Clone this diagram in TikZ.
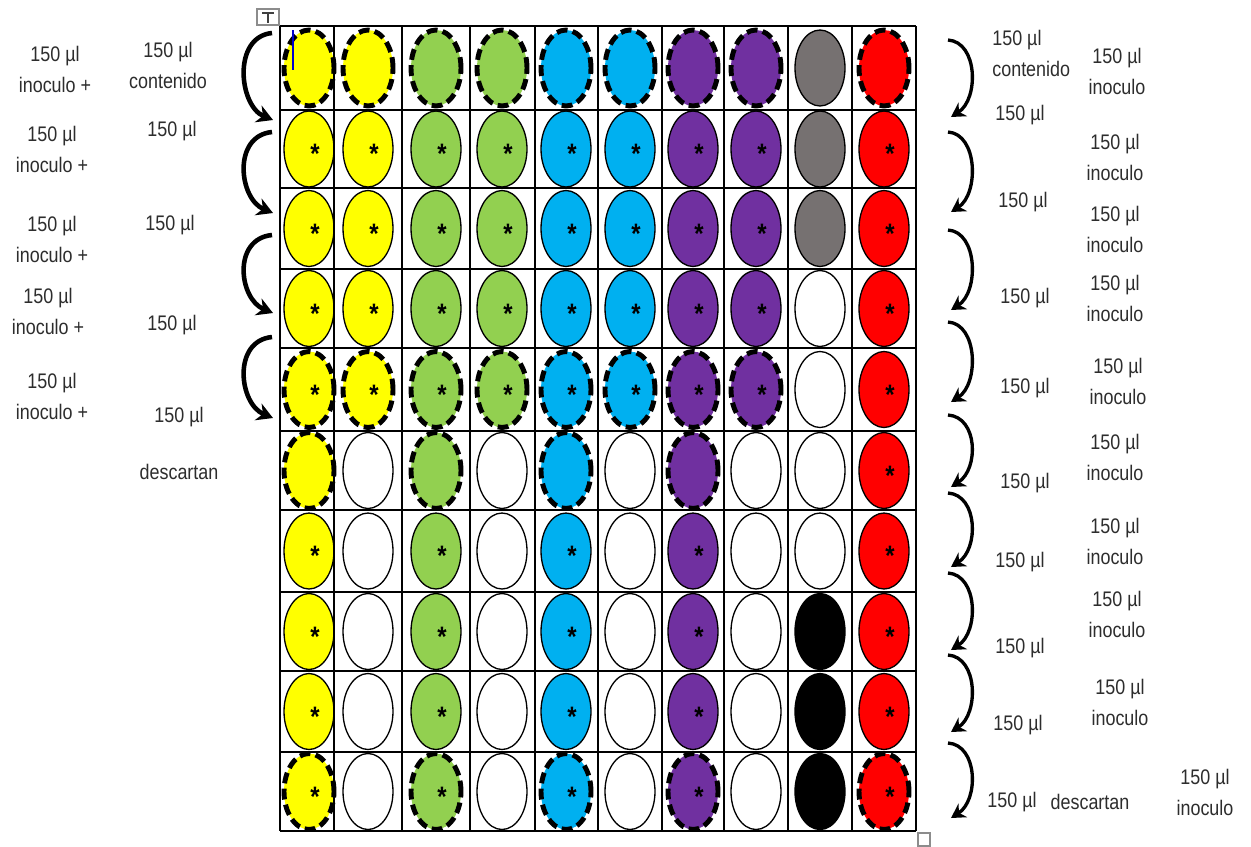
\documentclass[tikz,border=0pt]{standalone}
\usepackage{fontspec}
\setmainfont{Liberation Sans}[FakeStretch=0.85]
\usepackage{tikz}
\usetikzlibrary{arrows.meta,shapes.geometric,calc}
\definecolor{wyel}{RGB}{255,255,0}
\definecolor{wgrn}{RGB}{146,208,80}
\definecolor{wblu}{RGB}{0,176,240}
\definecolor{wpur}{RGB}{112,48,160}
\definecolor{wgry}{RGB}{118,113,113}
\definecolor{wred}{RGB}{255,0,0}
\definecolor{wtxt}{RGB}{45,45,45}
\tikzset{
  well/.style={
    ellipse, draw=black, line width=0.75pt, inner sep=0pt,
    minimum width=1.0cm, minimum height=1.52cm
  },
  dwell/.style={well, line width=2.8pt, dash pattern=on 6.2pt off 3pt},
  wY/.style={well, fill=wyel},
  wYd/.style={dwell, fill=wyel},
  wG/.style={well, fill=wgrn},
  wGd/.style={dwell, fill=wgrn},
  wB/.style={well, fill=wblu},
  wBd/.style={dwell, fill=wblu},
  wP/.style={well, fill=wpur},
  wPd/.style={dwell, fill=wpur},
  wK/.style={well, fill=wgry},
  wW/.style={well, fill=white},
  wX/.style={well, fill=black},
  wR/.style={well, fill=wred},
  wRd/.style={dwell, fill=wred},
  ast/.style={inner sep=0pt, font=\fontsize{16}{16}\selectfont\bfseries},
  grid/.style={draw=black, line width=0.8pt},
  lbl/.style={
    font=\fontsize{12}{17.6}\selectfont, text=wtxt,
    align=center, inner sep=0pt
  },
  larr/.style={-{Stealth[length=3.2mm,width=3.6mm]}, draw=black, line width=2.6pt},
  rarr/.style={-{Stealth[length=2.8mm,width=3.2mm]}, draw=black, line width=1.9pt}
}
\begin{document}
\begin{tikzpicture}[x=0.02cm, y=-0.02cm]
  \useasboundingbox[fill=white] (0,0) rectangle (1251,846);
  \foreach \r/\cy/\lst in {
    1/68/{wYd/0,wYd/0,wGd/0,wGd/0,wBd/0,wBd/0,wPd/0,wPd/0,wK/0,wRd/0},
    2/149/{wY/1,wY/1,wG/1,wG/1,wB/1,wB/1,wP/1,wP/1,wK/0,wR/1},
    3/228.5/{wY/1,wY/1,wG/1,wG/1,wB/1,wB/1,wP/1,wP/1,wK/0,wR/1},
    4/308.5/{wY/1,wY/1,wG/1,wG/1,wB/1,wB/1,wP/1,wP/1,wW/0,wR/1},
    5/389.5/{wYd/1,wYd/1,wGd/1,wGd/1,wBd/1,wBd/1,wPd/1,wPd/1,wW/0,wR/1},
    6/470.5/{wYd/0,wW/0,wGd/0,wW/0,wBd/0,wW/0,wPd/0,wW/0,wW/0,wR/1},
    7/551/{wY/1,wW/0,wG/1,wW/0,wB/1,wW/0,wP/1,wW/0,wW/0,wR/1},
    8/631.5/{wY/1,wW/0,wG/1,wW/0,wB/1,wW/0,wP/1,wW/0,wX/0,wR/1},
    9/711.5/{wY/1,wW/0,wG/1,wW/0,wB/1,wW/0,wP/1,wW/0,wX/0,wR/1},
    10/791.5/{wYd/1,wW/0,wGd/1,wW/0,wBd/1,wW/0,wPd/1,wW/0,wX/0,wRd/1}} {
    \foreach \st/\s [count=\c] in \lst {
      \pgfmathsetmacro\cx{{309,368,436,502,566,630,693,756,820,884}[\c-1]}
      \node[\st] (w\r-\c) at (\cx,\cy) {};
      \ifnum\s=1 \node[ast] (a\r-\c) at ($(w\r-\c)+(6,5)$) {*};\fi
    }
  }
  \foreach \gx in {280,334,402,470,535,598,662,724,788,852,916}
    \draw[grid] (\gx,26) -- (\gx,831);
  \foreach \gy in {26,110,188,269,348,431,510,592,671,752,831}
    \draw[grid] (280,\gy) -- (916,\gy);

  \foreach \i/\px/\py in {1/55/69,2/52/149,3/52/239,4/48/311,5/52/396}
    \node[lbl] (inoc\i) at (\px,\py) {150 µl\\inoculo +};
  \node[lbl] (cont1) at (168,65) {150 µl\\contenido};
  \foreach \i/\px/\py in {2/172/131,3/170/225,4/172/325,5/179/417}
    \node[lbl] (cont\i) at (\px,\py) {150 µl};
  \node[lbl] (desc1) at (179,472) {descartan};

  \node[lbl, anchor=west, align=left] (rcont1) at (992,53) {150 µl\\contenido};
  \foreach \i/\px/\py in {2/1020/115,3/1023/202,4/1025/298,5/1025/388,
      6/1025/483,7/1020/562,8/1020/648,9/1018/725,10/1012/802}
    \node[lbl] (rcont\i) at (\px,\py) {150 µl};
  \node[lbl] (desc2) at (1090,802) {descartan};
  \foreach \i/\px/\py in {1/1117/71,2/1115/157,3/1115/229,4/1115/298,5/1118/381,
      6/1115/457,7/1115/541,8/1117/614,9/1120/702,10/1205/792}
    \node[lbl] (rinoc\i) at (\px,\py) {150 µl\\inoculo};

  \foreach \i/\a/\b in {1/33/120,2/132/213,3/235/313,4/337/418} {
    \coordinate (la\i-s) at (272,\a);
    \coordinate (la\i-e) at (273,\b);
    \draw[larr] (la\i-s) .. controls +(-40,4) and +(-34,-14) .. (la\i-e);
  }
  \foreach \i/\a/\b in {1/40/117,2/132/212,3/230/310,4/322/402,5/415/487,
      6/493/567,7/573/650,8/655/732,9/743/818} {
    \coordinate (ra\i-s) at (948,\a);
    \coordinate (ra\i-e) at (951,\b);
    \draw[rarr] (ra\i-s) .. controls +(30,2) and +(28,-18) .. (ra\i-e);
  }

  \draw[black!45, line width=0.6pt] (257,9) rectangle (279,25);
  \draw[black!75, line width=0.6pt] (262,13) -- (274,13) (268,13) -- (268,23);
  \draw[black!45, line width=0.6pt] (918,833) rectangle (930,846);
  \draw[blue!80!black, line width=0.6pt] (293,30) -- (293,70);
\end{tikzpicture}
\end{document}
